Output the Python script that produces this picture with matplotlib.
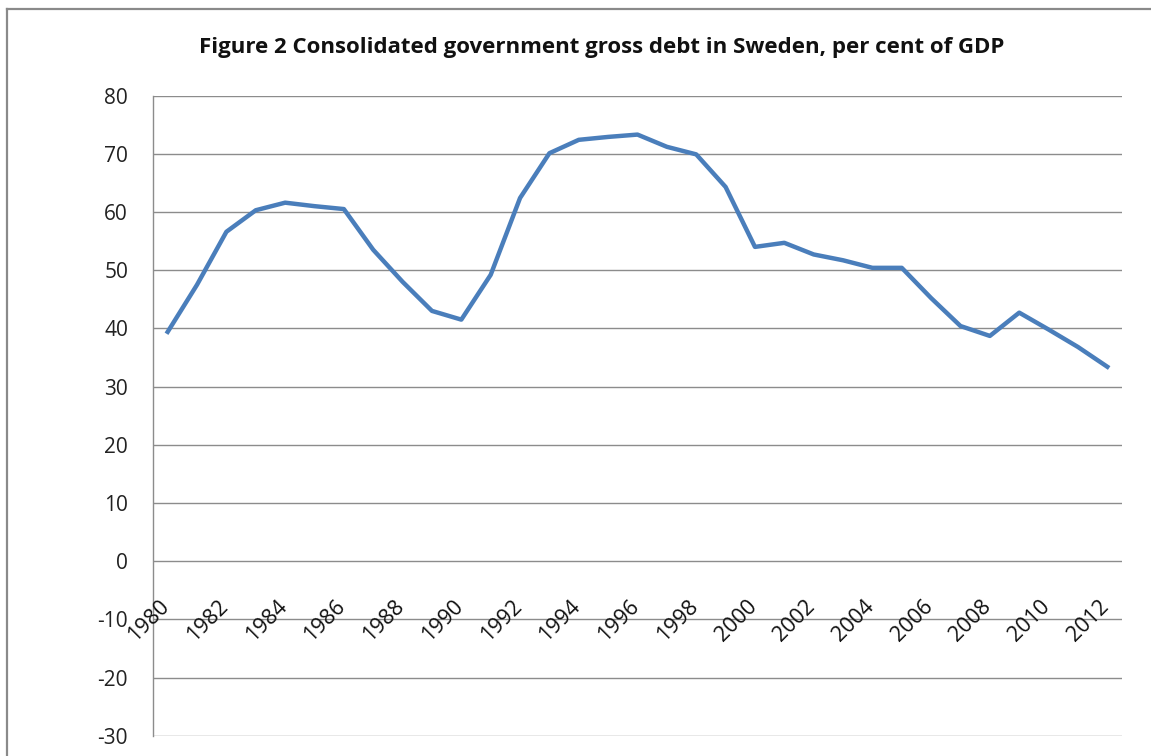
import matplotlib.pyplot as plt
from matplotlib.lines import Line2D

# Data (per cent of GDP)
years = list(range(1980, 2013))
debt = [39.4, 47.5, 56.6, 60.3, 61.6, 61.0, 60.5, 53.5, 48.0, 43.0,
        41.5, 49.2, 62.4, 70.1, 72.4, 72.9, 73.3, 71.2, 69.9, 64.3,
        54.0, 54.7, 52.7, 51.7, 50.4, 50.4, 45.2, 40.4, 38.7, 42.7,
        39.8, 36.8, 33.4]
y_ticks = list(range(-30, 90, 10))
label_years = years[::2]

title = "Figure 2 Consolidated government gross debt in Sweden, per cent of GDP"

plt.rcParams["font.family"] = ["Open Sans", "DejaVu Sans"]
plt.rcParams["axes.unicode_minus"] = False

W, H = 1151, 756
fig = plt.figure(figsize=(W / 100, H / 100), dpi=100)
ax = fig.add_axes([153 / W, 1 - 735.7 / H, (1122 - 153) / W, (735.7 - 95.6) / H])

grid_col = "#8c8c8c"
xs = list(range(len(years)))
ax.plot(xs, debt, color="#4a7ebb", linewidth=3.2, solid_joinstyle="round")

ax.set_xlim(-0.5, len(years) - 0.5)
ax.set_ylim(-30, 80)
ax.set_yticks(y_ticks)
ax.yaxis.grid(True, color=grid_col, linewidth=1.0)
ax.set_axisbelow(True)
ax.set_xticks([])
ax.tick_params(axis="y", length=0, pad=18, labelsize=15, labelcolor="#222222")
for side in ["top", "right", "bottom"]:
    ax.spines[side].set_visible(False)
ax.spines["left"].set_color(grid_col)
ax.spines["left"].set_linewidth(1.0)

# category labels sit below the zero line, rotated like in Excel
for yr in label_years:
    i = years.index(yr)
    ax.text(i - 0.05, -7.3, str(yr), rotation=45, rotation_mode="anchor",
            ha="right", va="center", fontsize=15.5, color="#111111")

fig.text(602 / W, 1 - 48 / H, title, ha="center", va="center",
         fontsize=16, fontweight="bold", color="#111111")

# chart-area border (only left and top edges are inside the crop)
fig.add_artist(Line2D([7 / W, 7 / W], [0, 1 - 9 / H], transform=fig.transFigure,
                      color="#8a8a8a", linewidth=1.6))
fig.add_artist(Line2D([7 / W, 1], [1 - 9 / H, 1 - 9 / H], transform=fig.transFigure,
                      color="#8a8a8a", linewidth=1.6))

fig.savefig("out.png", dpi=100)
